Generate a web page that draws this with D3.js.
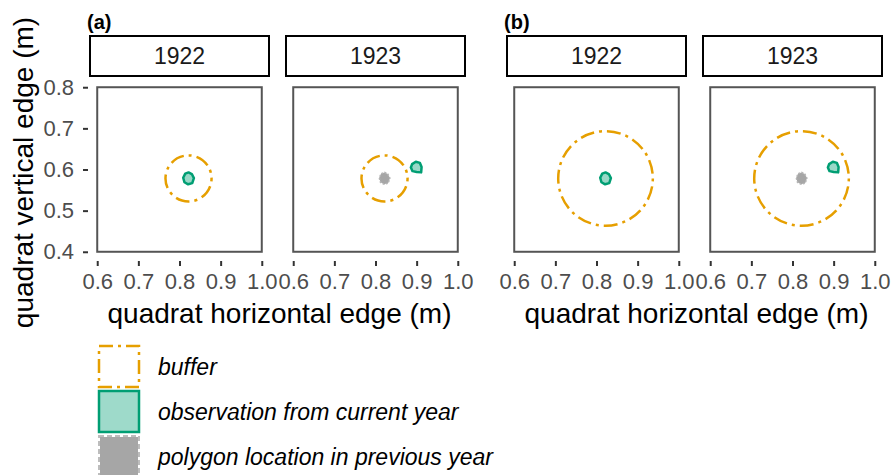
<!DOCTYPE html>
<html>
<head>
<meta charset="utf-8">
<script src="https://cdn.jsdelivr.net/npm/d3@7"></script>
<style>
  body { margin: 0; background: #fff; }
  text { font-family: "Liberation Sans", Arial, Helvetica, sans-serif; }
</style>
</head>
<body>
<svg id="chart"></svg>
<script>
// facets: two figures (a, b), each with the two census years
var figures = ["(a)", "(b)"];
var years = ["1922", "1923"];
var bufferRadius = [0.056, 0.115]; // buffer radius (m) used in figure a and b

// polygon outlines (m)
var poly1922 = [[0.814, 0.590], [0.822, 0.593], [0.830, 0.589], [0.835, 0.579], [0.831, 0.567],
                [0.821, 0.564], [0.812, 0.569], [0.809, 0.580]];
var poly1923 = [[0.889, 0.613], [0.898, 0.619], [0.908, 0.616], [0.912, 0.606], [0.911, 0.593],
                [0.900, 0.594], [0.890, 0.596], [0.886, 0.605]];

var quadratX = [0.6, 1.0], quadratY = [0.4, 0.8];
var xTicks = [0.6, 0.7, 0.8, 0.9, 1.0];
var yTicks = [0.4, 0.5, 0.6, 0.7, 0.8];
var legendLabels = ["buffer", "observation from current year", "polygon location in previous year"];

var svgWidth = 893, svgHeight = 475;
var svg = d3.select('#chart').attr('width', svgWidth).attr('height', svgHeight);

var orange = "#E69F00", green = "#009E73", grey = "#a6a6a6";
var panelSize = 181, panelTop = 79, stripTop = 35, stripH = 42;
var figLeft = [89, 506], panelStep = 196;
var tickFont = 22;

var facets = [];
figures.forEach(function(f, fi) {
    years.forEach(function(y, yi) {
        facets.push({fig: fi, year: y,
                     left: figLeft[fi] + yi * panelStep,
                     current: yi === 0 ? poly1922 : poly1923,
                     previous: yi === 0 ? null : poly1922,
                     radius: bufferRadius[fi]});
    });
});

var bufferDash = "3,5,14,5";

facets.forEach(function(d, i) {
    var x = d3.scaleLinear().domain([0.58, 1.02]).range([d.left, d.left + panelSize]);
    var y = d3.scaleLinear().domain([0.38, 0.82]).range([panelTop + panelSize, panelTop]);
    var g = svg.append('g');

    // strip
    g.append('rect')
        .attr('x', d.left + 1).attr('y', stripTop + 1)
        .attr('width', panelSize - 2).attr('height', stripH - 2)
        .attr('fill', 'white').attr('stroke', 'black').attr('stroke-width', 2);
    g.append('text')
        .attr('x', d.left + panelSize / 2).attr('y', stripTop + stripH / 2 + 8)
        .attr('text-anchor', 'middle').attr('font-size', 23).attr('fill', '#1a1a1a')
        .text(d.year);

    // quadrat outline
    g.append('rect')
        .attr('x', x(quadratX[0])).attr('y', y(quadratY[1]))
        .attr('width', x(quadratX[1]) - x(quadratX[0]))
        .attr('height', y(quadratY[0]) - y(quadratY[1]))
        .attr('fill', 'none').attr('stroke', '#555').attr('stroke-width', 2);

    var line = d3.line().x(function(p) { return x(p[0]); }).y(function(p) { return y(p[1]); }).curve(d3.curveLinearClosed);

    // buffer around the previous location (or current one in the first year)
    var centre = d3.polygonCentroid(d.previous || d.current);
    g.append('circle')
        .attr('cx', x(centre[0])).attr('cy', y(centre[1]))
        .attr('r', x(centre[0] + d.radius) - x(centre[0]))
        .attr('fill', 'none').attr('stroke', orange).attr('stroke-width', 2.5)
        .attr('stroke-dasharray', bufferDash);

    if (d.previous) {
        g.append('path').attr('d', line(d.previous))
            .attr('fill', grey).attr('stroke', '#b5b5b5').attr('stroke-width', 1.5)
            .attr('stroke-dasharray', '2,1.5');
    }
    g.append('path').attr('d', line(d.current))
        .attr('fill', green).attr('fill-opacity', 0.4)
        .attr('stroke', green).attr('stroke-width', 2.5).attr('stroke-linejoin', 'round');

    // x axis
    var xAxis = g.append('g')
        .attr('transform', 'translate(0,' + (panelTop + panelSize + 1) + ')')
        .call(d3.axisBottom(x).tickValues(xTicks).tickFormat(d3.format('.1f')).tickSize(5).tickPadding(7));
    xAxis.select('.domain').remove();
    xAxis.selectAll('line').attr('stroke', '#333').attr('stroke-width', 2);
    xAxis.selectAll('text').attr('font-size', tickFont).attr('fill', '#4d4d4d')
        .style('font-family', '"Liberation Sans", Arial, sans-serif');

    if (i === 0) {
        var yAxis = g.append('g')
            .attr('transform', 'translate(' + (d.left - 1) + ',0)')
            .call(d3.axisLeft(y).tickValues(yTicks).tickFormat(d3.format('.1f')).tickSize(5).tickPadding(9));
        yAxis.select('.domain').remove();
        yAxis.selectAll('line').attr('stroke', '#333').attr('stroke-width', 2);
        yAxis.selectAll('text').attr('font-size', tickFont).attr('fill', '#4d4d4d')
            .style('font-family', '"Liberation Sans", Arial, sans-serif');
    }
});

// figure tags and x axis titles
figures.forEach(function(f, fi) {
    svg.append('text')
        .attr('x', figLeft[fi] - 2).attr('y', 29)
        .attr('font-size', 20).attr('font-weight', 'bold')
        .text(f);
    svg.append('text')
        .attr('x', figLeft[fi] + (panelStep + panelSize) / 2 + 2).attr('y', 323)
        .attr('text-anchor', 'middle').attr('font-size', 28)
        .text('quadrat horizontal edge (m)');
});

svg.append('text')
    .attr('transform', 'translate(33,' + (panelTop + panelSize / 2 + 3) + ') rotate(-90)')
    .attr('text-anchor', 'middle').attr('font-size', 28)
    .text('quadrat vertical edge (m)');

// legend
var legendY = [345, 390, 435];
var legend = svg.append('g');
legendLabels.forEach(function(lab, i) {
    var k = legend.append('rect')
        .attr('x', 99).attr('y', legendY[i] + 1)
        .attr('width', 40).attr('height', 41);
    if (i === 0) {
        k.attr('fill', 'white').attr('stroke', orange).attr('stroke-width', 2.5)
            .attr('stroke-dasharray', '14,5,3,5');
    } else if (i === 1) {
        k.attr('fill', green).attr('fill-opacity', 0.38).attr('stroke', 'none');
        legend.append('rect').attr('x', 99).attr('y', legendY[i] + 1).attr('width', 40).attr('height', 41)
            .attr('fill', 'none').attr('stroke', green).attr('stroke-width', 2.5);
    } else {
        k.attr('fill', grey).attr('stroke', 'white').attr('stroke-width', 2);
        legend.append('rect').attr('x', 99).attr('y', legendY[i] + 1).attr('width', 40).attr('height', 41)
            .attr('fill', 'none').attr('stroke', '#bdbdbd').attr('stroke-width', 2).attr('stroke-dasharray', '5,3');
    }
    legend.append('text')
        .attr('x', 158).attr('y', legendY[i] + 30)
        .attr('font-size', 23).attr('font-style', 'italic')
        .text(lab);
});
</script>
</body>
</html>
